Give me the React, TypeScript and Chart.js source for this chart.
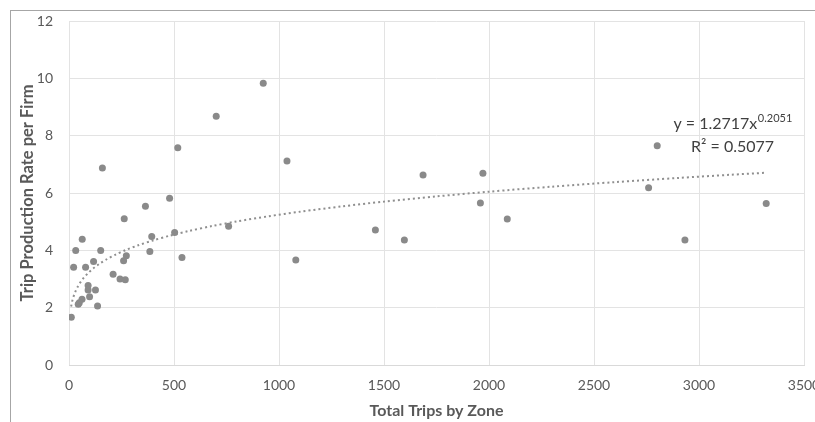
import React, { useEffect, useRef } from "react";
import { Chart, registerables } from "chart.js";

Chart.register(...registerables);

// Total trips by zone (x) and trip production rate per firm (y)
const tripsByZone = [
  479, 364, 263, 63, 32, 151, 394, 503, 760, 385, 538, 273, 260, 117, 22, 79,
  210, 243, 268, 91, 91, 126, 98, 62, 49, 44, 136, 11,
  925, 701, 518, 159, 1038, 1080, 1459, 1597, 1686, 1971, 1959, 2087,
  2801, 2760, 2933, 3320,
];
const productionRate = [
  5.82, 5.54, 5.10, 4.39, 3.99, 3.99, 4.48, 4.62, 4.84, 3.96, 3.75, 3.81,
  3.64, 3.61, 3.41, 3.41, 3.17, 3.00, 2.97, 2.77, 2.62, 2.62, 2.38, 2.29,
  2.17, 2.12, 2.06, 1.67,
  9.83, 8.68, 7.58, 6.87, 7.12, 3.66, 4.71, 4.36, 6.63, 6.69, 5.65, 5.09,
  7.65, 6.18, 4.36, 5.63,
];

const X_TICKS = [0, 500, 1000, 1500, 2000, 2500, 3000, 3500];
const Y_TICKS = [0, 2, 4, 6, 8, 10, 12];

// Power trendline as displayed: y = 1.2717 x^0.2051, R² = 0.5077
const TREND_COEF = 1.2717;
const TREND_EXP = 0.2051;
const TREND_COEF_TEXT = "1.2717";
const TREND_EXP_TEXT = "0.2051";
const R_SQUARED_TEXT = "0.5077";
const TREND_X = [
  10, 15, 20, 30, 40, 55, 70, 90, 115, 145, 180, 220, 270, 330, 400, 480, 570,
  680, 800, 950, 1100, 1300, 1500, 1750, 2000, 2300, 2600, 2900, 3150, 3320,
];

const X_TITLE = "Total Trips by Zone";
const Y_TITLE = "Trip Production Rate per Firm";

const FONT = "Lato, 'Open Sans', sans-serif";

export default function App() {
  const ref = useRef<HTMLCanvasElement>(null);

  useEffect(() => {
    document.body.style.margin = "0";
    const canvas = ref.current;
    if (!canvas) return;

    const points = tripsByZone.map((x, i) => ({ x, y: productionRate[i] }));
    const trend = TREND_X.map((x) => ({ x, y: TREND_COEF * Math.pow(x, TREND_EXP) }));

    const equationPlugin = {
      id: "equation",
      afterDatasetsDraw(chart: any) {
        const { ctx, scales } = chart;
        const cx = scales.x.getPixelForValue(3160);
        const y1 = scales.y.getPixelForValue(8.42);
        const y2 = scales.y.getPixelForValue(7.62);
        ctx.save();
        ctx.fillStyle = "#404040";
        ctx.textBaseline = "middle";
        const main = "y = " + TREND_COEF_TEXT + "x";
        ctx.font = `16px ${FONT}`;
        const wMain = ctx.measureText(main).width;
        ctx.font = `11px ${FONT}`;
        const wSup = ctx.measureText(TREND_EXP_TEXT).width;
        const start = cx - (wMain + wSup) / 2;
        ctx.textAlign = "left";
        ctx.font = `16px ${FONT}`;
        ctx.fillText(main, start, y1);
        ctx.font = `11px ${FONT}`;
        ctx.fillText(TREND_EXP_TEXT, start + wMain + 0.5, y1 - 5);
        ctx.font = `16px ${FONT}`;
        ctx.textAlign = "center";
        ctx.fillText("R\u00B2 = " + R_SQUARED_TEXT, cx, y2);
        ctx.restore();
      },
    };

    const chart = new Chart(canvas, {
      type: "scatter",
      data: {
        datasets: [
          {
            type: "scatter",
            data: points,
            backgroundColor: "#8a8a8a",
            borderColor: "#8a8a8a",
            pointRadius: 3.5,
            pointBorderWidth: 0,
            order: 1,
          },
          {
            type: "line",
            data: trend,
            borderColor: "#8f8f8f",
            borderWidth: 2,
            borderDash: [2, 3],
            pointRadius: 0,
            fill: false,
            tension: 0.3,
            order: 2,
          } as any,
        ],
      },
      options: {
        animation: false,
        responsive: false,
        maintainAspectRatio: false,
        layout: { padding: { left: 0, top: 21, right: 36, bottom: 0 } },
        plugins: {
          legend: { display: false },
          tooltip: { enabled: false },
        },
        scales: {
          x: {
            type: "linear",
            min: 0,
            max: 3500,
            afterBuildTicks: (s: any) => {
              s.ticks = X_TICKS.map((v) => ({ value: v }));
            },
            afterFit: (s: any) => {
              s.height = 75;
              s.paddingLeft = 0;
              s.paddingRight = 0;
            },
            grid: { color: "#e3e3e3", drawTicks: false, lineWidth: 1 },
            border: { color: "#d9d9d9" },
            ticks: {
              padding: 12,
              color: "#595959",
              font: { family: FONT, size: 14 },
              maxRotation: 0,
              callback: (v: any) => String(v),
            },
            title: {
              display: true,
              text: X_TITLE,
              color: "#595959",
              font: { family: FONT, size: 16, weight: "bold" },
              padding: { top: 0, bottom: 20 },
            },
          },
          y: {
            type: "linear",
            min: 0,
            max: 12,
            afterBuildTicks: (s: any) => {
              s.ticks = Y_TICKS.map((v) => ({ value: v }));
            },
            afterFit: (s: any) => {
              s.width = 69;
              s.paddingTop = 0;
              s.paddingBottom = 0;
            },
            grid: { color: "#e3e3e3", drawTicks: false, lineWidth: 1 },
            border: { display: false },
            ticks: {
              padding: 16,
              color: "#595959",
              font: { family: FONT, size: 14 },
              callback: (v: any) => String(v),
            },
            title: {
              display: true,
              text: Y_TITLE,
              color: "#595959",
              font: { family: FONT, size: 16.5, weight: "bold" },
              padding: { top: 18, bottom: 0 },
            },
          },
        },
      },
      plugins: [equationPlugin],
    } as any);

    return () => chart.destroy();
  }, []);

  return (
    <div
      style={{
        position: "relative",
        width: 815,
        height: 422,
        overflow: "hidden",
        background: "#ffffff",
      }}
    >
      <canvas
        ref={ref}
        width={840}
        height={440}
        style={{ position: "absolute", left: 0, top: 0, width: 840, height: 440 }}
      />
      <div
        style={{
          position: "absolute",
          left: 10,
          top: 10,
          width: 900,
          height: 500,
          border: "1px solid #a6a6a6",
          pointerEvents: "none",
        }}
      />
    </div>
  );
}
